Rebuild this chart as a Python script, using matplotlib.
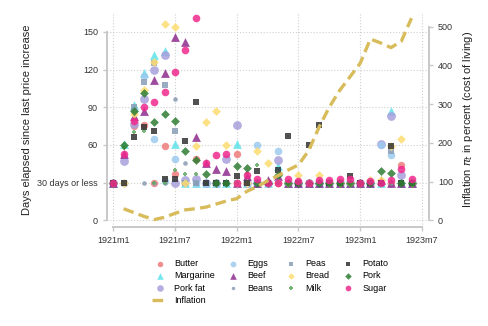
import numpy as np
import matplotlib
matplotlib.use("Agg")
import matplotlib.pyplot as plt

plt.rcParams['font.family'] = ['Liberation Sans', 'DejaVu Sans']

# months since 1921m1
months = np.arange(30)
tick_pos = [0, 6, 12, 18, 24, 30]
tick_lab = ['1921m1', '1921m7', '1922m1', '1922m7', '1923m1', '1923m7']

# days elapsed since last price increase (30 = "30 days or less")
butter = [30, 30, 75, 76, 30, 59, 37, 30, 49, 30, 30, 30, 53, 30, 30, 30, 30, 30, 30, 30, 30, 30, 30, 30, 30, 30, 30, 30, 44, 30]
margarine = [30, 61, 92, 117, 132, 135, 61, 30, 30, 30, 30, 30, 61, 30, 30, 30, 43, 30, 30, 30, 30, 30, 30, 30, 30, 30, 30, 87, 30, 30]
pork_fat = [30, 47, 77, 97, 120, 132, 30, 32, 33, 30, 30, 49, 76, 30, 30, 30, 48, 30, 30, 30, 30, 30, 30, 30, 30, 30, 61, 83, 36, 30]
eggs = [30, 30, 88, 115, 65, 31, 49, 30, 30, 30, 30, 30, 30, 30, 60, 30, 55, 30, 30, 30, 30, 30, 30, 30, 30, 30, 60, 52, 30, 30]
beef = [30, 53, 83, 87, 112, 117, 146, 142, 66, 46, 41, 39, 30, 35, 30, 32, 35, 30, 30, 30, 30, 30, 30, 30, 30, 30, 32, 30, 30, 30]
beans = [30, 30, 86, 30, 30, 30, 97, 46, 30, 30, 30, 30, 30, 30, 30, 30, 30, 30, 30, 30, 30, 30, 30, 30, 30, 30, 30, 30, 30, 30]
peas = [30, 30, 90, 110, 125, 108, 71, 30, 30, 30, 30, 30, 30, 30, 30, 30, 30, 30, 30, 30, 30, 30, 30, 30, 30, 30, 30, 55, 30, 30]
bread = [30, 30, 85, 104, 126, 156, 154, 30, 59, 78, 87, 60, 30, 30, 55, 46, 30, 30, 36, 30, 36, 30, 30, 30, 30, 32, 32, 59, 65, 30]
milk = [30, 58, 70, 71, 30, 30, 40, 37, 37, 30, 30, 30, 30, 38, 44, 30, 30, 30, 30, 30, 30, 30, 30, 30, 30, 30, 30, 30, 30, 30]
potato = [30, 30, 66, 74, 71, 33, 33, 63, 94, 30, 30, 30, 35, 30, 39, 30, 40, 67, 30, 60, 76, 30, 30, 35, 30, 30, 30, 59, 30, 30]
pork = [30, 60, 87, 101, 78, 85, 79, 55, 48, 37, 30, 30, 43, 42, 30, 30, 36, 30, 30, 30, 30, 30, 30, 30, 30, 30, 39, 38, 30, 30]
sugar = [30, 53, 79, 90, 94, 102, 118, 136, 161, 46, 52, 53, 30, 36, 33, 30, 30, 33, 31, 30, 32, 32, 33, 33, 30, 31, 30, 32, 41, 33]

# inflation, months 1..29
infl_months = np.arange(1, 30)
inflation = [30, 20, 10, 2, 8, 18, 27, 30, 34, 42, 50, 56, 75, 87, 102, 115, 130, 143, 180, 240,
             292, 335, 370, 405, 468, 458, 446, 462, 522]

# (label, data, marker, color, size)
series = [
    ('Butter', butter, 'o', '#ee7b7b', 28),
    ('Margarine', margarine, '^', '#5fe3ec', 40),
    ('Pork fat', pork_fat, 'o', '#a7a0dc', 40),
    ('Eggs', eggs, 'o', '#9dcaee', 30),
    ('Beef', beef, '^', '#8e2c8e', 40),
    ('Beans', beans, 'o', '#8a9cb2', 11),
    ('Peas', peas, 's', '#8a9db6', 22),
    ('Bread', bread, 'D', '#fddc70', 20),
    ('Milk', milk, 'P', '#62a862', 11),
    ('Potato', potato, 's', '#333333', 22),
    ('Pork', pork, 'D', '#2e7d32', 20),
    ('Sugar', sugar, 'o', '#f0288c', 30),
]

fig = plt.figure(figsize=(4.88, 3.26), dpi=100)
ax = fig.add_axes([0.2193, 0.3037, 0.6598, 0.6595])
ax2 = ax.twinx()

handles = {}
for name, vals, mk, col, sz in series:
    h = ax.scatter(months, vals, marker=mk, s=sz, color=col, alpha=0.85,
                   linewidths=0, zorder=3, label=name)
    handles[name] = h

ln, = ax2.plot(infl_months, inflation, color='#d8bc5c', lw=2.4,
               dashes=(3.2, 1.6), label='Inflation', zorder=4)

spine_col = '#c8c8c8'
ax.set_xlim(-0.61, 30.7)
ax.set_ylim(-5.3, 165.9)
ax2.set_ylim(-17.2, 537.9)

ax.set_xticks(tick_pos)
ax.set_xticklabels(tick_lab, fontsize=6.5)
ax.set_yticks([0, 30, 60, 90, 120, 150])
ax.set_yticklabels(['0', '30 days or less', '60', '90', '120', '150'], fontsize=6.5)
ax2.set_yticks([0, 100, 200, 300, 400, 500])
ax2.tick_params(axis='y', labelsize=6.5, colors='#333333', color=spine_col, length=3, width=1)
ax.tick_params(axis='both', colors='#333333', color=spine_col, length=3, width=1)

ax.grid(True, linestyle=':', color='#d0d0d0', linewidth=0.8)
ax.set_axisbelow(True)

for a in (ax, ax2):
    a.spines['top'].set_visible(False)
    for s in ('left', 'right', 'bottom'):
        a.spines[s].set_color(spine_col)
        a.spines[s].set_linewidth(1.4)
ax.spines['right'].set_visible(False)
ax2.spines['left'].set_visible(False)
ax2.spines['bottom'].set_visible(False)
ax.spines['bottom'].set_bounds(0, 30)
ax.spines['left'].set_bounds(0, 150)
ax2.spines['right'].set_bounds(0, 500)

ax.set_ylabel('Days elapsed since last price increase', fontsize=8, color='#222222', labelpad=4)
ax2.set_ylabel(r'Inflation $\pi_t$ in percent (cost of living)', fontsize=8, color='#222222', labelpad=6)

order = ['Butter', 'Margarine', 'Pork fat', None, 'Eggs', 'Beef', 'Beans',
         'Peas', 'Bread', 'Milk', 'Potato', 'Pork', 'Sugar']
hl = [ln if k is None else handles[k] for k in order]
ll = ['Inflation' if k is None else k for k in order]
fig.legend(hl, ll, loc='center', bbox_to_anchor=(0.553, 0.135), ncol=4, frameon=False,
           fontsize=6.5, handlelength=1.8, handletextpad=0.7, columnspacing=1.1,
           labelspacing=0.35, markerscale=0.75)

fig.savefig('out.png', dpi=100)
